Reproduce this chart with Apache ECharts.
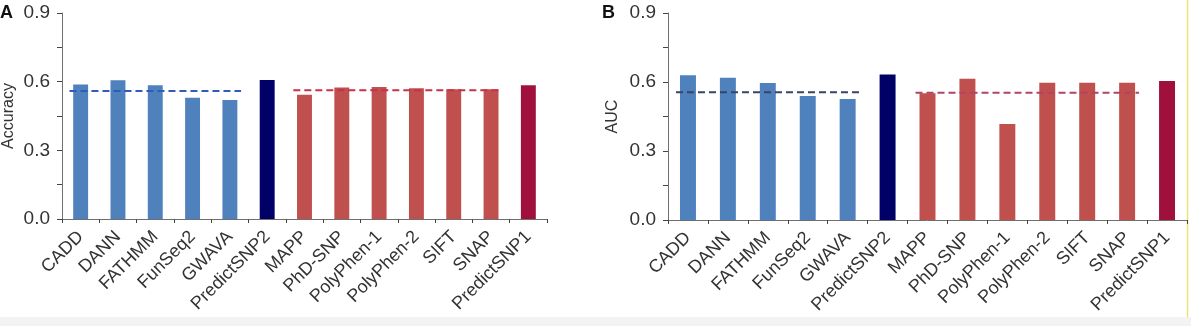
<!DOCTYPE html>
<html>
<head>
<meta charset="utf-8">
<script src="https://cdn.jsdelivr.net/npm/echarts@6/dist/echarts.min.js"></script>
<style>
html,body{margin:0;padding:0;background:#fff;}
#chart{width:1191px;height:326px;}
</style>
</head>
<body>
<div id="chart"></div>
<script>
// ---- data ----
const categories = ['CADD','DANN','FATHMM','FunSeq2','GWAVA','PredictSNP2','MAPP','PhD-SNP','PolyPhen-1','PolyPhen-2','SIFT','SNAP','PredictSNP1'];
const accuracyValues = [0.588,0.606,0.584,0.530,0.520,0.607,0.543,0.574,0.577,0.571,0.567,0.567,0.584];
const aucValues      = [0.629,0.619,0.596,0.539,0.526,0.633,0.551,0.614,0.417,0.597,0.597,0.597,0.604];
const accuracyAvgNoncoding = 0.559;
const accuracyAvgCoding    = 0.562;
const aucAvgNoncoding      = 0.555;
const aucAvgCoding         = 0.553;
const yTickStep = 0.3;
// group ranges (category indices)
const noncodingTools = [0, 4];   // CADD..GWAVA
const codingTools    = [6, 11];  // MAPP..SNAP

// ---- styles ----
const colNoncoding = '#4f81bd';
const colPredict2  = '#000066';
const colCoding    = '#c0504d';
const colPredict1  = '#a0103c';
function barColor(i){
  if (i <= noncodingTools[1]) return colNoncoding;
  if (i === 5) return colPredict2;
  if (i <= codingTools[1]) return colCoding;
  return colPredict1;
}
const overhang = 0.3;
const fontFam = '"Liberation Sans", Arial, sans-serif';

const chart = echarts.init(document.getElementById('chart'));

function panel(gi, values, name, nameGap, avgN, avgC, dashN, dashC){
  return {
    xAxes: [
      {
        type:'category', gridIndex:gi, data:categories,
        axisLine:{onZero:false,lineStyle:{color:'#6f6f6f',width:1}},
        axisTick:{show:true,length:4,lineStyle:{color:'#444',width:1}},
        axisLabel:{rotate:45, fontSize:18, color:'#333', fontFamily:fontFam, margin:15, interval:0}
      },
      {
        type:'value', gridIndex:gi, min:-0.5, max:categories.length-0.5, show:false
      }
    ],
    yAxis: {
      type:'value', gridIndex:gi, min:0, max:0.9, interval:yTickStep,
      name:name, nameLocation:'middle', nameGap:nameGap,
      nameTextStyle:{fontSize:16,color:'#333',fontFamily:fontFam},
      axisLine:{show:true,onZero:false,lineStyle:{color:'#6f6f6f',width:1}},
      axisTick:{show:true,length:5,lineStyle:{color:'#444',width:1}},
      minorTick:{show:true,splitNumber:2,length:5,lineStyle:{color:'#444',width:1}},
      splitLine:{show:false},
      axisLabel:{fontSize:19,color:'#333',fontFamily:fontFam,margin:12,
        formatter:function(v){ return v.toFixed(1); }}
    },
    series: [
      {
        type:'bar', xAxisIndex:gi*2, yAxisIndex:gi, barWidth:'40%',
        data: values.map((v,i)=>({value:v,itemStyle:{color:barColor(i)}})),
        silent:true
      },
      {
        type:'line', xAxisIndex:gi*2+1, yAxisIndex:gi, symbol:'none',
        lineStyle:{color:dashN,width:2,type:[7,4]},
        data:[[noncodingTools[0]-overhang, avgN],[noncodingTools[1]+overhang, avgN]],
        z:5
      },
      {
        type:'line', xAxisIndex:gi*2+1, yAxisIndex:gi, symbol:'none',
        lineStyle:{color:dashC,width:2,type:[7,4]},
        data:[[codingTools[0]-overhang, avgC],[codingTools[1]+overhang, avgC]],
        z:5
      }
    ]
  };
}

const pA = panel(0, accuracyValues, 'Accuracy', 45, accuracyAvgNoncoding, accuracyAvgCoding, '#2e5cb8', '#c8304c');
const pB = panel(1, aucValues, 'AUC', 47, aucAvgNoncoding, aucAvgCoding, '#3a4466', '#b04466');

chart.setOption({
  animation:false,
  backgroundColor:'#ffffff',
  grid:[
    {left:62, right:644, top:13, bottom:107},
    {left:668, right:4, top:13, bottom:106}
  ],
  xAxis:[...pA.xAxes, ...pB.xAxes],
  yAxis:[pA.yAxis, pB.yAxis],
  series:[...pA.series, ...pB.series],
  graphic:[
    {type:'rect', shape:{x:0,y:317,width:1191,height:9}, style:{fill:'#f3f3f3'}, silent:true, z:-1},
    {type:'line', shape:{x1:1187.5,y1:0,x2:1187.5,y2:317}, style:{stroke:'#f0e27a',lineWidth:1.5}, silent:true},
    {type:'text', left:0, top:4, style:{text:'A', font:'bold 18px "Liberation Sans", Arial, sans-serif', fill:'#111'}},
    {type:'text', left:602, top:4, style:{text:'B', font:'bold 18px "Liberation Sans", Arial, sans-serif', fill:'#111'}}
  ]
});
</script>
</body>
</html>
